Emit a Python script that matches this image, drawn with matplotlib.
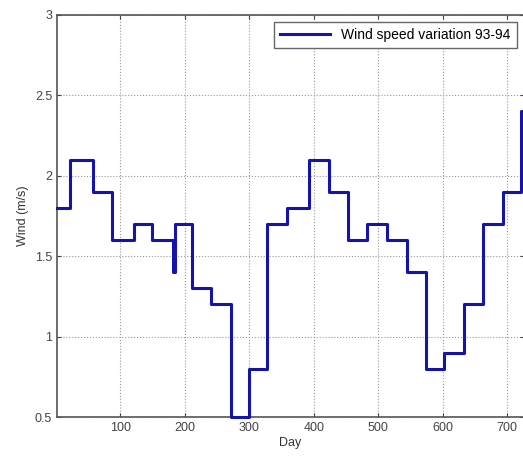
import matplotlib
matplotlib.use('Agg')
import matplotlib.pyplot as plt

# step start days and wind speed held from that day (m/s)
days = [2, 22, 58, 88, 121, 150, 182, 185, 211, 241, 271, 299, 328, 358, 392,
        423, 453, 483, 514, 544, 574, 602, 633, 662, 693, 721, 726]
wind = [1.8, 2.1, 1.9, 1.6, 1.7, 1.6, 1.4, 1.7, 1.3, 1.2, 0.5, 0.8, 1.7, 1.8, 2.1,
        1.9, 1.6, 1.7, 1.6, 1.4, 0.8, 0.9, 1.2, 1.7, 1.9, 2.4, 2.4]

x_ticks = [100, 200, 300, 400, 500, 600, 700]
y_ticks = [0.5, 1, 1.5, 2, 2.5, 3]
y_labels = ['0.5', '1', '1.5', '2', '2.5', '3']

plt.rcParams['font.family'] = ['Liberation Sans', 'DejaVu Sans']

fig = plt.figure(figsize=(5.23, 4.59), dpi=100)
ax = fig.add_axes([0.109, 0.0915, 0.893, 0.876])

ax.step(days, wind, where='post', color='#1414a8', linewidth=2.2,
        label='Wind speed variation 93-94', clip_on=False, zorder=3)

ax.set_xlim(2, 726)
ax.set_ylim(0.5, 3)
ax.set_xticks(x_ticks)
ax.set_yticks(y_ticks)
ax.set_yticklabels(y_labels)
ax.tick_params(direction='in', length=3, labelsize=9, colors='#444444',
               top=True, right=True)
for s in ax.spines.values():
    s.set_edgecolor('#555555')
    s.set_linewidth(1.2)
ax.grid(True, linestyle=':', color='#999999', linewidth=0.8)

ax.set_xlabel('Day', fontsize=9, color='#333333', labelpad=2)
ax.set_ylabel('Wind (m/s)', fontsize=9, color='#333333', labelpad=4)

leg = ax.legend(loc='upper right', fontsize=10, fancybox=False,
                framealpha=1, edgecolor='#666666', borderaxespad=0.5,
                handlelength=3.6, borderpad=0.45)
leg.get_frame().set_linewidth(1.0)

plt.savefig('out.png', dpi=100)
